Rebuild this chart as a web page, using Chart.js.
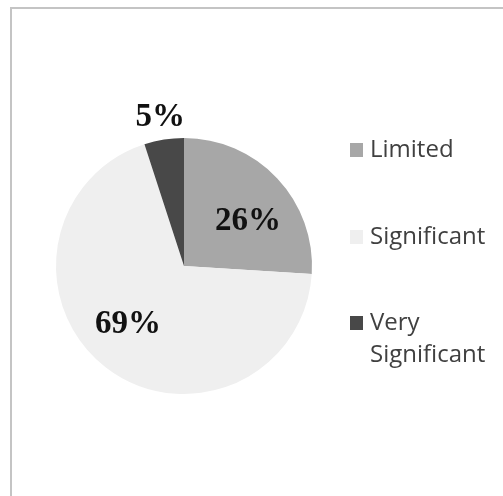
<!DOCTYPE html>
<html>
<head>
    <meta charset="utf-8">
    <title>Pie</title>
    <script src="https://cdn.jsdelivr.net/npm/chart.js@4.4.1/dist/chart.umd.min.js"></script>
    <style>
        body { margin: 0; background: #fff; }
        #wrap { position: relative; width: 503px; height: 496px; overflow: hidden; }
        #frame { position: absolute; left: 10px; top: 7px; width: 520px; height: 520px;
                 border-left: 2px solid #c4c4c4; border-top: 2px solid #c4c4c4; }
        canvas { position: absolute; left: 0; top: 0; }
    </style>
</head>
<body>
<div id="wrap">
    <div id="frame"></div>
    <canvas id="pie" width="503" height="496"></canvas>
</div>
<script>
    // data
    const categories = ["Limited", "Significant", "Very Significant"];
    const shares = [26, 69, 5];
    const sliceColors = ["#a7a7a7", "#efefef", "#484848"];

    // percent labels + legend on the right, drawn after the arcs
    const labelsPlugin = {
        id: 'pctLabels',
        afterDatasetsDraw(chart) {
            const ctx = chart.ctx;
            const meta = chart.getDatasetMeta(0);
            ctx.save();
            ctx.font = 'bold 33px "Liberation Serif", "Times New Roman", serif';
            ctx.fillStyle = '#111';
            ctx.textAlign = 'center';
            ctx.textBaseline = 'middle';
            meta.data.forEach(function (arc, i) {
                const p = arc.getProps(['x', 'y', 'startAngle', 'endAngle', 'outerRadius'], true);
                let mid = (p.startAngle + p.endAngle) / 2;
                let f = 1.19;
                if (shares[i] >= 10) {
                    // inside labels sit a bit clockwise of the middle, like the original
                    mid += 7 * Math.PI / 180;
                    f = 0.62;
                }
                const x = p.x + Math.cos(mid) * p.outerRadius * f;
                const y = p.y + Math.sin(mid) * p.outerRadius * f + 2;
                ctx.fillText(shares[i] + '%', x, y);
            });

            // legend
            ctx.font = '24px "Open Sans", "Noto Sans", sans-serif';
            ctx.textAlign = 'left';
            ctx.textBaseline = 'middle';
            const rows = [150, 237, 323];
            categories.forEach(function (name, i) {
                ctx.fillStyle = sliceColors[i];
                ctx.fillRect(350, rows[i] - 7, 13, 14);
                ctx.fillStyle = '#404040';
                const words = name.split(' ');
                if (words.length > 1) {
                    ctx.fillText(words[0], 370, rows[i]);
                    ctx.fillText(words.slice(1).join(' '), 370, rows[i] + 32);
                } else {
                    ctx.fillText(name, 370, rows[i]);
                }
            });
            ctx.restore();
        }
    };

    new Chart(document.getElementById("pie"), {
        type: 'pie',
        data: {
            labels: categories,
            datasets: [{
                data: shares,
                backgroundColor: sliceColors,
                borderWidth: 0
            }]
        },
        options: {
            responsive: false,
            animation: false,
            layout: { padding: { left: 56, right: 191, top: 138, bottom: 102 } },
            plugins: {
                legend: { display: false },
                tooltip: { enabled: false }
            }
        },
        plugins: [labelsPlugin]
    });
</script>
</body>
</html>
